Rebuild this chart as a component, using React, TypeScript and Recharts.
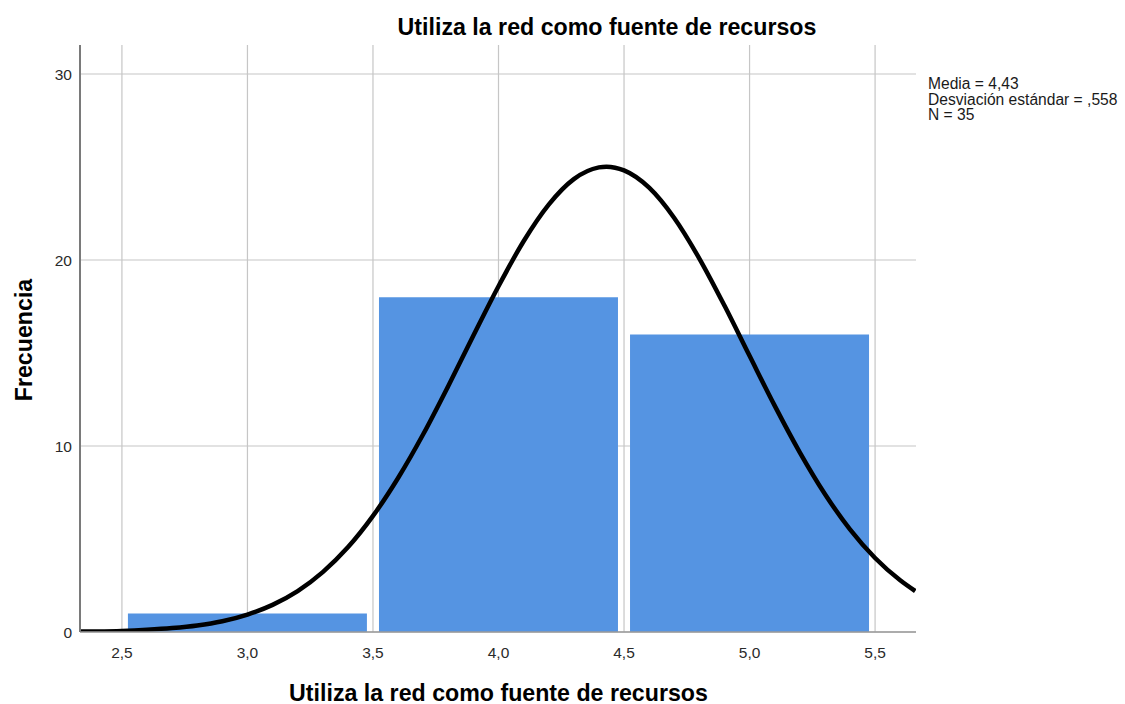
import React from "react";
import {
  ComposedChart,
  Bar,
  Line,
  XAxis,
  YAxis,
  CartesianGrid,
} from "recharts";

// Histogram bins (bin centre, frequency)
const binCenters = [3.0, 4.0, 5.0];
const binCounts = [1, 18, 16];

// Normal curve (x, frequency)
const curveX = [
  2.33, 2.4, 2.5, 2.6, 2.7, 2.8, 2.9, 3.0, 3.1, 3.2, 3.3, 3.4, 3.5, 3.6, 3.7,
  3.8, 3.9, 4.0, 4.1, 4.2, 4.3, 4.4, 4.43, 4.5, 4.6, 4.7, 4.8, 4.9, 5.0, 5.1,
  5.2, 5.3, 5.4, 5.5, 5.6, 5.66,
];
const curveY = [
  0.02, 0.03, 0.06, 0.12, 0.21, 0.35, 0.58, 0.94, 1.46, 2.2, 3.22, 4.55, 6.24,
  8.28, 10.63, 13.23, 15.94, 18.59, 21.01, 22.98, 24.35, 24.98, 25.02, 24.82,
  23.89, 22.26, 20.08, 17.55, 14.85, 12.17, 9.66, 7.42, 5.52, 3.98, 2.78, 2.2,
];

const xTicks = [2.5, 3.0, 3.5, 4.0, 4.5, 5.0, 5.5];
const yTicks = [0, 10, 20, 30];
const xDomain = [2.333, 5.663];
const yDomain = [0, 31.56];

const title = "Utiliza la red como fuente de recursos";
const xLabel = "Utiliza la red como fuente de recursos";
const yLabel = "Frecuencia";
const statsLines = ["Media = 4,43", "Desviación estándar = ,558", "N = 35"];

const bins = binCenters.map((x, i) => ({ x, count: binCounts[i] }));
const curve = curveX.map((x, i) => ({ x, y: curveY[i] }));

const FONT = '"Liberation Sans", Arial, sans-serif';
const fmt = (v: number) => v.toFixed(1).replace(".", ",");

export default function App() {
  return (
    <div
      style={{
        position: "absolute",
        left: 0,
        top: 0,
        width: 1125,
        height: 704,
        background: "#ffffff",
        fontFamily: FONT,
      }}
    >
      <ComposedChart
        width={1125}
        height={704}
        data={bins}
        margin={{ top: 45, right: 209, bottom: 42, left: 20 }}
      >
        <CartesianGrid
          xAxisId="bins"
          stroke="#c6c6c6"
          strokeWidth={1.2}
          syncWithTicks
        />
        <XAxis
          xAxisId="bins"
          dataKey="x"
          type="number"
          domain={xDomain}
          allowDataOverflow
          ticks={xTicks}
          tickFormatter={fmt}
          tickLine={false}
          tickMargin={9}
          axisLine={{ stroke: "#9a9a9a", strokeWidth: 1.5 }}
          tick={{ fill: "#2a2a2a", fontSize: 15.5, fontFamily: FONT }}
          height={30}
        />
        <XAxis
          xAxisId="curve"
          dataKey="x"
          type="number"
          domain={xDomain}
          allowDataOverflow
          ticks={xTicks}
          hide
        />
        <YAxis
          type="number"
          domain={yDomain}
          allowDataOverflow
          ticks={yTicks}
          tickLine={false}
          axisLine={{ stroke: "#7a7a7a", strokeWidth: 2 }}
          tick={{ fill: "#2a2a2a", fontSize: 15.5, fontFamily: FONT }}
          width={60}
        />
        <Bar
          xAxisId="bins"
          dataKey="count"
          fill="#5594e2"
          barSize={239}
          isAnimationActive={false}
        />
        <Line
          xAxisId="curve"
          data={curve}
          dataKey="y"
          type="monotone"
          stroke="#000000"
          strokeWidth={4.5}
          dot={false}
          activeDot={false}
          isAnimationActive={false}
        />
      </ComposedChart>
      <svg
        width={1125}
        height={704}
        style={{ position: "absolute", left: 0, top: 0, pointerEvents: "none" }}
      >
        <text
          x={607}
          y={34.5}
          textAnchor="middle"
          fontSize={23.2}
          fontWeight="bold"
          fontFamily={FONT}
          fill="#000"
        >
          {title}
        </text>
        <text
          x={498.5}
          y={700.5}
          textAnchor="middle"
          fontSize={23.2}
          fontWeight="bold"
          fontFamily={FONT}
          fill="#000"
        >
          {xLabel}
        </text>
        <text
          transform="translate(31.5,340) rotate(-90)"
          textAnchor="middle"
          fontSize={23.2}
          fontWeight="bold"
          fontFamily={FONT}
          fill="#000"
        >
          {yLabel}
        </text>
        {statsLines.map((s, i) => (
          <text
            key={i}
            x={928}
            y={89.3 + i * 15.4}
            fontSize={15.6}
            fontFamily={FONT}
            fill="#1a1a1a"
          >
            {s}
          </text>
        ))}
      </svg>
    </div>
  );
}
